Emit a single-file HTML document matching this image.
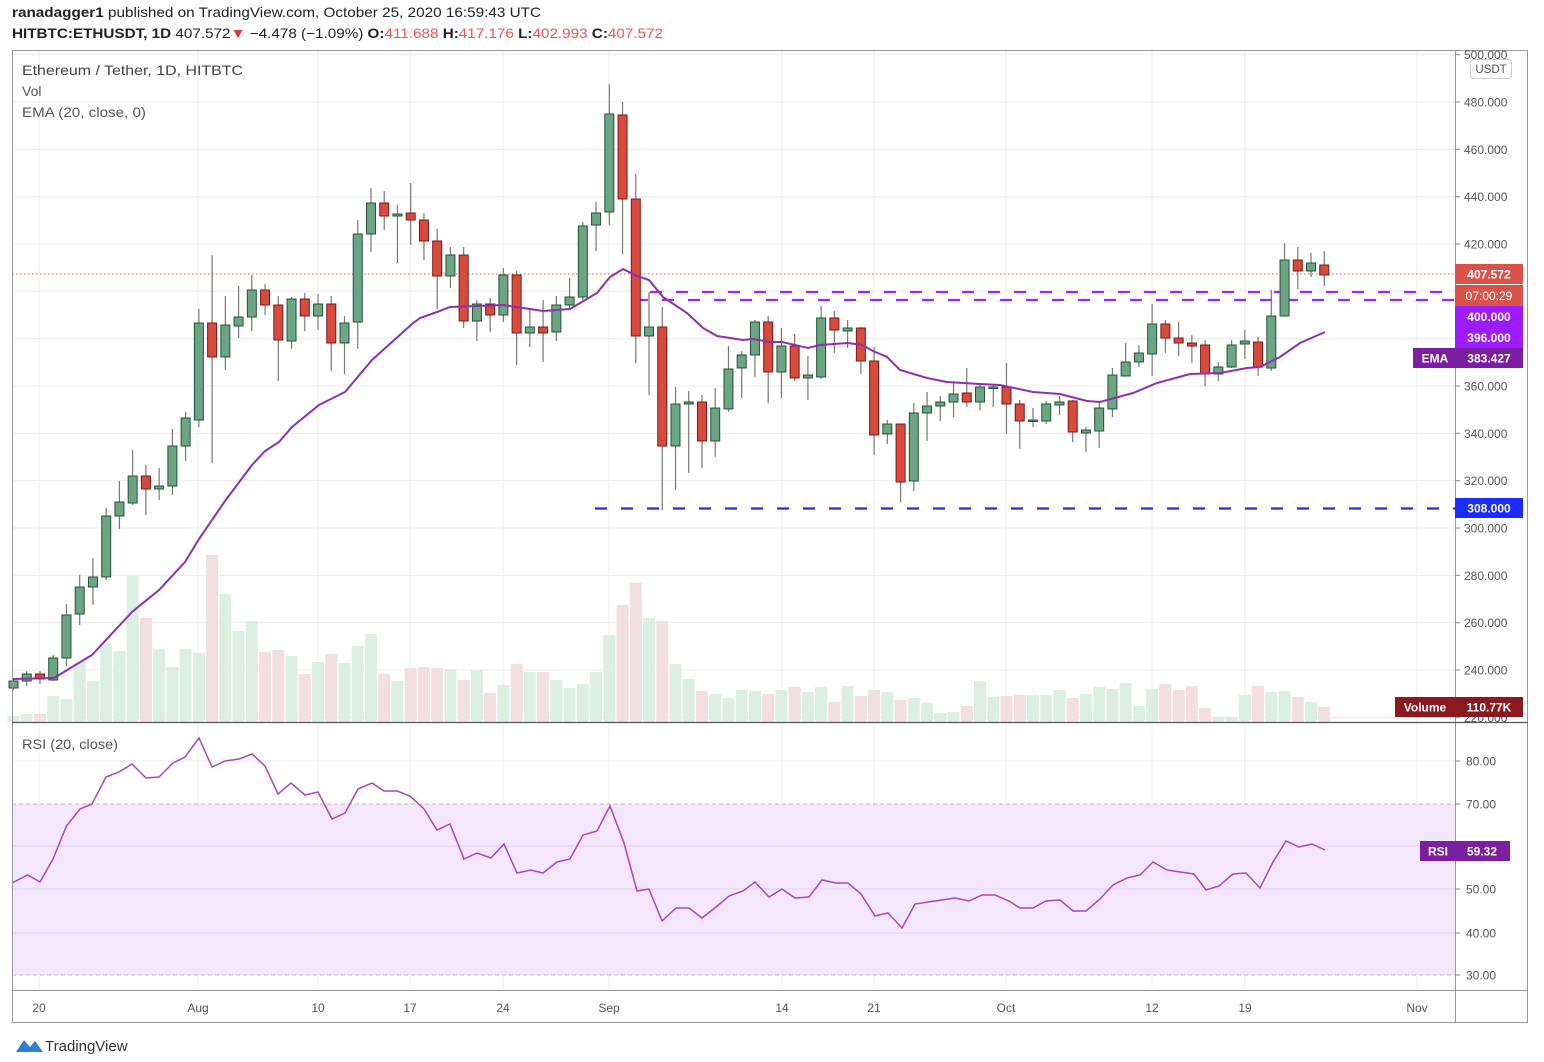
<!DOCTYPE html>
<html><head><meta charset="utf-8"><style>
html,body{margin:0;padding:0;background:#fff;width:1544px;height:1062px;overflow:hidden}
svg{display:block;font-family:"Liberation Sans",sans-serif}
</style></head><body>
<svg id="s" width="1544" height="1062" viewBox="0 0 1544 1062" xmlns="http://www.w3.org/2000/svg">
<rect x="0" y="0" width="1544" height="1062" fill="#fff"/>
<!-- RSI fill -->
<rect x="12" y="804" width="1443" height="171" fill="#f4e6fd"/>
<g id="grid" stroke="#ececec" stroke-width="1"></g>
<g id="vol"></g>
<!-- red dotted last price -->
<line x1="12" y1="274" x2="1455" y2="274" stroke="#e5534b" stroke-width="1" stroke-dasharray="1.5,2.5"/>
<!-- purple dashed lines -->
<line x1="650" y1="292" x2="1455" y2="292" stroke="#9c27f5" stroke-width="2.2" stroke-dasharray="12,14"/>
<line x1="636" y1="300" x2="1455" y2="300" stroke="#9c27f5" stroke-width="2.2" stroke-dasharray="12,14"/>
<!-- blue dashed -->
<line x1="595" y1="508.5" x2="1455" y2="508.5" stroke="#1a2cff" stroke-width="2.2" stroke-dasharray="12,14"/>
<g id="candles"></g>
<polyline fill="none" stroke="#8e2fb0" stroke-width="2" points="12,679 54,678 92,655 132,612 159,590 185,562 199,539 225,501 252,465 265,451 279,442 292,427 319,405 345,392 372,360 412,324 420,318 437,312 450,307 503,305 543,311 570,309 597,293 610,277 623,269 637,276 649,280 663,297 687,313 703,328 717,336 743,340 753,339 770,342 782,342 808,348 820,345 848,343 862,345 873,351 887,357 900,370 927,378 947,382 980,384 1000,385 1033,392 1060,394 1087,401 1100,402 1133,393 1157,383 1190,374 1220,373 1247,368 1260,367 1280,357 1300,343 1325,332"/>
<!-- RSI line -->
<polyline fill="none" stroke="#ab47bc" stroke-width="1.5" points="12,883 27.6,875 40,882 53,859 66.5,826 80,809 92,804 106,777 119,772 132,764 146,778 159,777 173,763 185,757 199,738 212,767 225,761 239,759 252,754 265,766 278,794 291,783 305,795 318,792 332,819 345,813 358,789 372,783 384,791 397,791 410,796 424,809 437,830 450,824 464,859 477,853 491,858 504,844 517,873 531,870 543,873 557,862 570,859 583,835 597,831 610,806 624,843 637,891 649,889 662,921 676,908 689,908 702,918 716,907 729,896 743,891 755,882 769,897 782,889 795,898 809,897 822,880 836,883 848,883 861,894 875,916 888,913 902,928 915,904 928,902 942,900 955,898 969,901 982,895 995,895 1009,901 1020,908 1033,908 1046,901 1060,900 1073,911 1086,911 1100,899 1113,885 1127,878 1140,875 1153,862 1167,870 1180,872 1194,874 1206,890 1219,886 1233,874 1246,873 1260,888 1273,862 1286,841 1299,847 1312,844 1325,850"/>
<!-- frame -->
<rect x="12.5" y="50.5" width="1515" height="972" fill="none" stroke="#9a9a9a" stroke-width="1"/>
<line x1="1455.5" y1="50" x2="1455.5" y2="1023" stroke="#9a9a9a"/>
<line x1="12" y1="722.5" x2="1528" y2="722.5" stroke="#555" stroke-width="1.2"/>
<line x1="12" y1="990.5" x2="1528" y2="990.5" stroke="#9a9a9a"/>
<g id="axis" font-size="12" fill="#555"></g>
<!-- header -->
<text x="12" y="17" font-size="14" fill="#222" textLength="529" lengthAdjust="spacingAndGlyphs"><tspan font-weight="bold">ranadagger1</tspan> published on TradingView.com, October 25, 2020 16:59:43 UTC</text>
<text x="12" y="38" font-size="14" fill="#222" textLength="651" lengthAdjust="spacingAndGlyphs"><tspan font-weight="bold">HITBTC:ETHUSDT, 1D</tspan> 407.572<tspan fill="#e53935">▼</tspan> −4.478 (−1.09%) <tspan font-weight="bold">O:</tspan><tspan fill="#ef5350">411.688</tspan> <tspan font-weight="bold">H:</tspan><tspan fill="#ef5350">417.176</tspan> <tspan font-weight="bold">L:</tspan><tspan fill="#ef5350">402.993</tspan> <tspan font-weight="bold">C:</tspan><tspan fill="#ef5350">407.572</tspan></text>
<text x="22" y="75" font-size="14" fill="#444" textLength="221" lengthAdjust="spacingAndGlyphs">Ethereum / Tether, 1D, HITBTC</text>
<text x="22" y="96" font-size="14" fill="#555">Vol</text>
<text x="22" y="117" font-size="14" fill="#555" textLength="124" lengthAdjust="spacingAndGlyphs">EMA (20, close, 0)</text>
<text x="22" y="749" font-size="14" fill="#555" textLength="96" lengthAdjust="spacingAndGlyphs">RSI (20, close)</text>
<!-- USDT box -->
<rect x="1470.5" y="59.5" width="41" height="19" rx="3" fill="#fff" stroke="#ccc"/>
<text x="1491" y="73" font-size="11.5" fill="#555" text-anchor="middle">USDT</text>
<!-- right labels -->
<rect x="1455" y="264" width="68" height="20" fill="#d9534a"/>
<text x="1489" y="278.5" font-size="12" fill="#fff" font-weight="bold" text-anchor="middle">407.572</text>
<rect x="1455" y="285" width="68" height="21" fill="#d9534a"/>
<text x="1489" y="300" font-size="12" fill="#fff" text-anchor="middle">07:00:29</text>
<rect x="1455" y="306" width="68" height="21" fill="#9c1cff"/>
<text x="1489" y="321" font-size="12" fill="#fff" font-weight="bold" text-anchor="middle">400.000</text>
<rect x="1455" y="327" width="68" height="21" fill="#9c1cff"/>
<text x="1489" y="342" font-size="12" fill="#fff" font-weight="bold" text-anchor="middle">396.000</text>
<rect x="1413" y="348" width="110" height="20" fill="#7b1fa2"/>
<text x="1435" y="362.5" font-size="12" fill="#fff" font-weight="bold" text-anchor="middle">EMA</text>
<text x="1489" y="362.5" font-size="12" fill="#fff" font-weight="bold" text-anchor="middle">383.427</text>
<rect x="1455" y="498" width="68" height="20" fill="#1a2cff"/>
<text x="1489" y="512.5" font-size="12" fill="#fff" font-weight="bold" text-anchor="middle">308.000</text>
<rect x="1395" y="697" width="128" height="20" fill="#8b1a1f"/>
<text x="1425" y="711.5" font-size="12" fill="#fff" font-weight="bold" text-anchor="middle">Volume</text>
<text x="1489" y="711.5" font-size="12" fill="#fff" font-weight="bold" text-anchor="middle">110.77K</text>
<rect x="1420" y="841" width="90" height="20" fill="#7b1fa2"/>
<text x="1438" y="855.5" font-size="12" fill="#fff" font-weight="bold" text-anchor="middle">RSI</text>
<text x="1482" y="855.5" font-size="12" fill="#fff" font-weight="bold" text-anchor="middle">59.32</text>
<!-- logo -->
<path d="M16 1052 L24 1040 L30 1047 L35 1041 L43 1052 Z" fill="#2f7ed8"/>
<text x="45" y="1051" font-size="15" fill="#333">TradingView</text>
</svg>
<script>
var NS="http://www.w3.org/2000/svg";
function el(p,t,a){var e=document.createElementNS(NS,t);for(var k in a)e.setAttribute(k,a[k]);p.appendChild(e);return e;}
var C=[[681,688,678,690,1],[674,681,671,686,1],[674,679,671,684,0],[658,680,655,681,1],[615,658,604,666,1],[587,614,575,625,1],[577,587,558,605,1],[516,577,508,580,1],[502,516,481,529,1],[476,503,450,505,1],[476,489,465,515,0],[486,489,468,500,1],[446,486,429,495,1],[418,446,412,461,1],[323,420,309,427,1],[323,357,255,463,0],[325,357,296,370,1],[317,326,286,338,1],[290,317,275,331,1],[290,305,284,315,0],[305,340,296,381,0],[299,341,297,349,1],[299,316,293,331,0],[304,316,294,330,1],[304,343,296,371,0],[323,343,316,374,1],[234,322,220,349,1],[203,234,188,252,1],[203,216,191,230,0],[214,216,205,263,1],[213,220,183,245,0],[220,241,213,260,0],[241,276,229,309,0],[255,276,247,288,1],[255,321,247,328,0],[304,321,300,341,1],[304,315,298,332,0],[275,315,268,322,1],[275,333,271,365,0],[327,333,310,347,1],[327,333,300,362,0],[305,332,296,341,1],[297,305,278,310,1],[226,297,222,300,1],[213,225,202,251,1],[114,212,84,225,1],[115,199,102,254,0],[199,336,174,363,0],[327,336,292,395,1],[327,446,307,510,0],[404,446,387,490,1],[402,404,391,473,1],[402,441,395,468,0],[408,441,388,457,1],[369,409,346,412,1],[355,368,351,398,1],[322,355,320,377,1],[322,372,316,403,0],[346,372,328,398,1],[346,378,334,381,0],[375,378,356,400,1],[318,377,306,379,1],[318,330,311,353,0],[328,331,320,348,1],[328,361,327,374,0],[361,435,347,455,0],[424,434,420,444,1],[424,482,424,502,0],[413,481,403,491,1],[406,413,392,441,1],[402,406,396,421,1],[394,402,382,417,1],[393,402,368,407,0],[387,402,384,410,1],[387,388,384,407,1],[387,404,363,434,0],[404,421,400,449,0],[420,421,408,427,1],[404,421,401,424,1],[402,405,396,415,1],[401,432,400,442,0],[430,433,427,452,1],[408,431,402,448,1],[375,409,368,417,1],[362,376,343,376,1],[353,362,345,367,1],[324,354,304,376,1],[324,338,320,353,0],[338,343,322,356,0],[343,346,335,363,0],[345,374,340,386,0],[367,374,362,381,1],[345,367,340,368,1],[341,344,330,359,1],[342,367,337,376,0],[316,368,290,371,1],[260,316,243,316,1],[260,271,247,289,0],[263,271,253,277,1],[265,275,251,286,0]];
var V=[716,714,714,696,699,662,681,644,651,576,618,649,667,649,653,555,594,631,621,652,650,656,674,662,654,663,646,634,674,681,668,667,668,669,680,670,693,685,664,672,672,680,688,684,672,635,605,583,618,621,664,679,691,694,698,690,691,694,690,687,692,687,702,686,696,690,692,700,698,703,713,712,706,681,697,696,695,695,695,690,698,694,687,689,683,706,689,684,690,686,708,717,717,695,686,692,691,697,702,707];
var g=document.getElementById("grid"),vg=document.getElementById("vol"),cg=document.getElementById("candles"),ax=document.getElementById("axis");
// horizontal grid main
for(var p=500;p>=220;p-=20){var y=102+(480-p)*2.3667;el(g,"line",{x1:12,y1:y,x2:1455,y2:y});
 el(ax,"line",{x1:1455,y1:y,x2:1460,y2:y,stroke:"#888"});
 var t=el(ax,"text",{x:1464,y:y+4.5});t.textContent=p.toFixed(3);}
[39,198,318,410,503,609,782,874,1006,1152,1245,1417].forEach(function(x){el(g,"line",{x1:x,y1:50,x2:x,y2:990});});
[[761,"80.00"],[804,"70.00"],[846,"60.00"],[889,"50.00"],[933,"40.00"],[975,"30.00"]].forEach(function(r){
 if(r[0]==804||r[0]==975){el(g,"line",{x1:12,y1:r[0],x2:1455,y2:r[0],stroke:"#bbb","stroke-dasharray":"4,3"});}
 else el(g,"line",{x1:12,y1:r[0],x2:1455,y2:r[0],stroke:r[0]>804?"#e6d3f2":"#ececec"});
 el(ax,"line",{x1:1455,y1:r[0],x2:1460,y2:r[0],stroke:"#888"});
 var t=el(ax,"text",{x:1466,y:r[0]+4.5});t.textContent=r[1];});
[[39,"20"],[198,"Aug"],[318,"10"],[410,"17"],[503,"24"],[609,"Sep"],[782,"14"],[874,"21"],[1006,"Oct"],[1152,"12"],[1245,"19"],[1417,"Nov"]].forEach(function(d){
 var t=el(ax,"text",{x:d[0],y:1012,"text-anchor":"middle"});t.textContent=d[1];});
for(var i=0;i<C.length;i++){var c=C[i],x=13.5+13.24*i,gr=c[4]==1;
 el(vg,"rect",{x:x-6,y:V[i],width:12,height:722-V[i],fill:gr?"#dcefe2":"#f1dfe1"});
 el(cg,"line",{x1:x,y1:c[2],x2:x,y2:c[3],stroke:"#777","stroke-width":1.2});
 var h=Math.max(c[1]-c[0],1.5);
 el(cg,"rect",{x:x-4.5,y:c[0],width:9,height:h,fill:gr?"#6ba583":"#d84a3e",stroke:gr?"#225437":"#7a1a14","stroke-width":1});}
</script>
</body></html>
